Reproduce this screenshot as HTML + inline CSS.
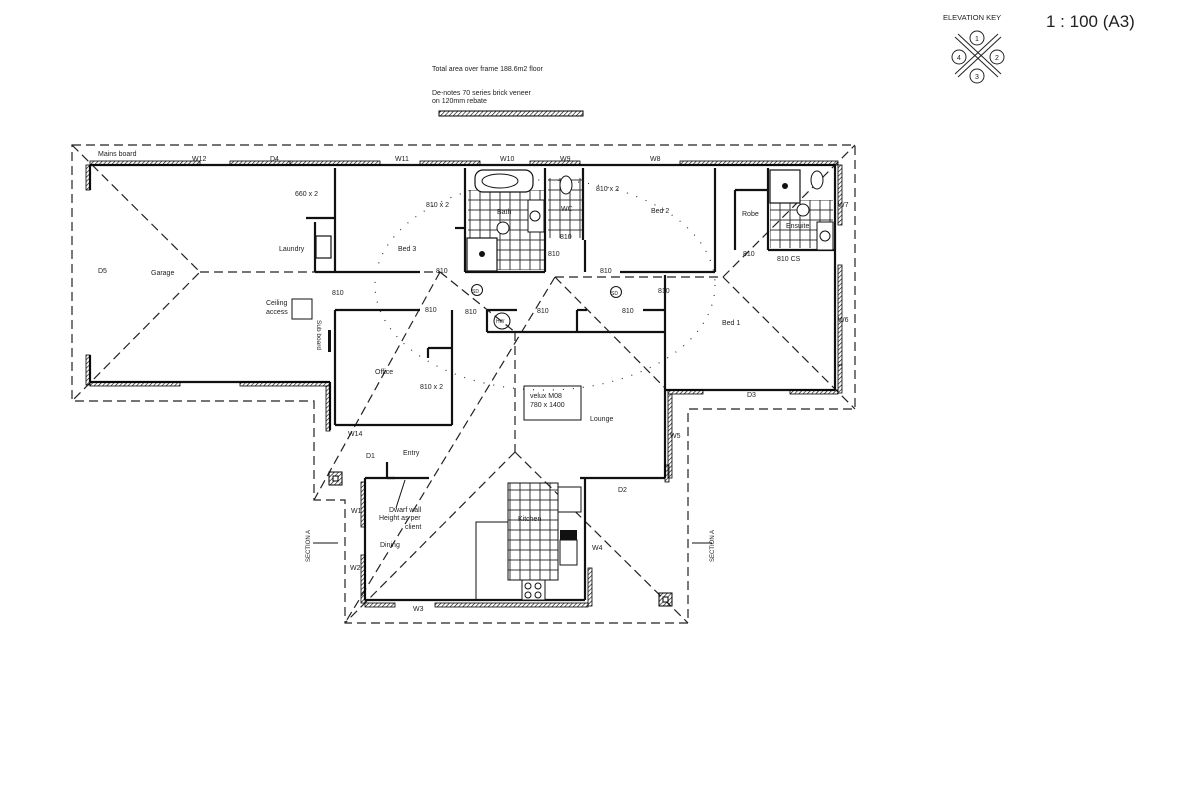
<!DOCTYPE html>
<html><head><meta charset="utf-8"><style>
html,body{margin:0;padding:0;background:#fff;}
svg{display:block;}
text{font-family:"Liberation Sans",sans-serif;fill:#222;}
</style></head><body>
<svg width="1200" height="800" viewBox="0 0 1200 800" xmlns="http://www.w3.org/2000/svg">
<defs>
<pattern id="hatch" width="3" height="3" patternUnits="userSpaceOnUse" patternTransform="rotate(45)">
<line x1="0" y1="0" x2="0" y2="3" stroke="#000" stroke-width="1.2"/></pattern>
<pattern id="tile" width="10" height="10" patternUnits="userSpaceOnUse">
<rect width="10" height="10" fill="none" stroke="#222" stroke-width="0.9"/></pattern>
</defs>
<rect width="1200" height="800" fill="#fff"/>

<text x="432" y="71" font-size="7">Total area over frame 188.6m2 floor</text>
<text x="432" y="95" font-size="7">De-notes 70 series brick veneer</text>
<text x="432" y="103" font-size="7">on 120mm rebate</text>
<rect x="439" y="111" width="144" height="5" fill="url(#hatch)" stroke="#000" stroke-width="1"/>

<text x="943" y="20" font-size="7.5">ELEVATION KEY</text>
<text x="1046" y="27" font-size="17">1 : 100 (A3)</text>
<g stroke="#222" stroke-width="1" fill="#fff">
<line x1="955" y1="37" x2="998" y2="77"/><line x1="958" y1="34" x2="1001" y2="74"/>
<line x1="955" y1="74" x2="998" y2="34"/><line x1="958" y1="77" x2="1001" y2="37"/>
<circle cx="977" cy="38" r="7" fill="none"/><circle cx="997" cy="57" r="7" fill="none"/>
<circle cx="977" cy="76" r="7" fill="none"/><circle cx="959" cy="57" r="7" fill="none"/>
</g>
<text x="975" y="41" font-size="7">1</text><text x="995" y="60" font-size="7">2</text>
<text x="975" y="79" font-size="7">3</text><text x="957" y="60" font-size="7">4</text>

<g fill="none" stroke="#222" stroke-width="1.2" stroke-dasharray="9,5">
<polygon points="72,145 855,145 855,409 688,409 688,623 345,623 345,500 314,500 314,401 72,401"/>
<polyline points="72,145 200,272 72,401"/>
<line x1="200" y1="272" x2="440" y2="272"/>
<line x1="440" y1="272" x2="314" y2="500"/>
<line x1="440" y1="272" x2="515" y2="332"/>
<line x1="555" y1="277" x2="723" y2="277"/>
<line x1="555" y1="277" x2="345" y2="623"/>
<line x1="555" y1="277" x2="665" y2="388"/>
<line x1="723" y1="277" x2="855" y2="145"/>
<line x1="723" y1="277" x2="855" y2="409"/>
<line x1="515" y1="332" x2="515" y2="452"/>
<line x1="515" y1="452" x2="688" y2="623"/>
<line x1="515" y1="452" x2="345" y2="623"/>
</g>

<g fill="none" stroke="#333" stroke-width="1.2" stroke-dasharray="1,9">
<ellipse cx="545" cy="285" rx="170" ry="105"/>
</g>

<g fill="none" stroke="#111" stroke-width="2.2">
<line x1="90" y1="165" x2="835" y2="165"/>
<line x1="835" y1="165" x2="835" y2="390"/>
<line x1="665" y1="390" x2="835" y2="390"/>
<line x1="90" y1="382" x2="330" y2="382"/>
<line x1="90" y1="165" x2="90" y2="190"/>
<line x1="90" y1="355" x2="90" y2="382"/>
<line x1="330" y1="382" x2="330" y2="430"/>
<line x1="335" y1="168" x2="335" y2="272"/>
<line x1="315" y1="222" x2="315" y2="272"/>
<line x1="306" y1="218" x2="335" y2="218"/>
<line x1="315" y1="272" x2="420" y2="272"/>
<line x1="465" y1="168" x2="465" y2="272"/>
<line x1="455" y1="228" x2="465" y2="228"/>
<line x1="465" y1="272" x2="545" y2="272"/>
<line x1="545" y1="168" x2="545" y2="272"/>
<line x1="583" y1="168" x2="583" y2="240"/>
<line x1="585" y1="240" x2="585" y2="272"/>
<line x1="620" y1="272" x2="715" y2="272"/>
<line x1="715" y1="168" x2="715" y2="272"/>
<line x1="735" y1="190" x2="735" y2="250"/>
<line x1="735" y1="190" x2="768" y2="190"/>
<line x1="768" y1="168" x2="768" y2="250"/>
<line x1="768" y1="250" x2="835" y2="250"/>
<line x1="335" y1="310" x2="420" y2="310"/>
<line x1="335" y1="310" x2="335" y2="425"/>
<line x1="452" y1="310" x2="452" y2="425"/>
<line x1="335" y1="425" x2="452" y2="425"/>
<line x1="428" y1="348" x2="452" y2="348"/>
<line x1="428" y1="348" x2="428" y2="358"/>
<line x1="487" y1="310" x2="517" y2="310"/>
<line x1="487" y1="310" x2="487" y2="332"/>
<line x1="487" y1="332" x2="665" y2="332"/>
<line x1="577" y1="310" x2="577" y2="332"/>
<line x1="577" y1="310" x2="587" y2="310"/>
<line x1="643" y1="310" x2="665" y2="310"/>
<line x1="665" y1="275" x2="665" y2="478"/>
<line x1="580" y1="478" x2="665" y2="478"/>
<line x1="365" y1="478" x2="395" y2="478"/>
<line x1="365" y1="478" x2="365" y2="600"/>
<line x1="365" y1="600" x2="585" y2="600"/>
<line x1="585" y1="478" x2="585" y2="600"/>
<line x1="387" y1="478" x2="429" y2="478"/>
<line x1="387" y1="462" x2="387" y2="478"/>
</g>
<g fill="url(#hatch)" stroke="#000" stroke-width="0.8">
<rect x="90" y="161" width="110" height="4"/><rect x="230" y="161" width="60" height="4"/>
<rect x="290" y="161" width="90" height="4"/><rect x="420" y="161" width="60" height="4"/>
<rect x="530" y="161" width="50" height="4"/><rect x="680" y="161" width="158" height="4"/>
<rect x="838" y="165" width="4" height="60"/><rect x="838" y="265" width="4" height="100"/>
<rect x="838" y="365" width="4" height="28"/>
<rect x="90" y="382" width="90" height="4"/><rect x="240" y="382" width="90" height="4"/>
<rect x="86" y="165" width="4" height="25"/><rect x="86" y="355" width="4" height="30"/>
<rect x="326" y="386" width="4" height="45"/>
<rect x="668" y="390" width="35" height="4"/><rect x="790" y="390" width="48" height="4"/>
<rect x="668" y="394" width="4" height="84"/>
<rect x="361" y="482" width="4" height="45"/><rect x="361" y="555" width="4" height="48"/>
<rect x="365" y="603" width="30" height="4"/><rect x="435" y="603" width="153" height="4"/>
<rect x="588" y="568" width="4" height="38"/><rect x="665" y="465" width="4" height="17"/>
</g>
<g fill="url(#hatch)" stroke="#000" stroke-width="1">
<rect x="329" y="472" width="13" height="13"/><rect x="659" y="593" width="13" height="13"/>
</g>
<rect x="333" y="476" width="5" height="5" fill="#fff" stroke="#000"/>
<rect x="663" y="597" width="5" height="5" fill="#fff" stroke="#000"/>

<rect x="468" y="190" width="76" height="80" fill="url(#tile)"/>
<rect x="548" y="178" width="34" height="60" fill="url(#tile)"/>
<rect x="770" y="200" width="63" height="48" fill="url(#tile)"/>
<rect x="475" y="170" width="58" height="22" rx="8" fill="#fff" stroke="#111" stroke-width="1.2"/>
<ellipse cx="500" cy="181" rx="18" ry="7" fill="#fff" stroke="#111"/>
<rect x="467" y="238" width="30" height="33" fill="#fff" stroke="#111" stroke-width="1.2"/>
<circle cx="482" cy="254" r="3" fill="#111"/>
<rect x="770" y="170" width="30" height="33" fill="#fff" stroke="#111" stroke-width="1.2"/>
<circle cx="785" cy="186" r="3" fill="#111"/>
<rect x="528" y="200" width="16" height="32" fill="#fff" stroke="#111"/><circle cx="535" cy="216" r="5" fill="none" stroke="#111"/>
<ellipse cx="566" cy="185" rx="6" ry="9" fill="#fff" stroke="#111"/>
<ellipse cx="817" cy="180" rx="6" ry="9" fill="#fff" stroke="#111"/>
<rect x="817" y="222" width="16" height="28" fill="#fff" stroke="#111"/><circle cx="825" cy="236" r="5" fill="none" stroke="#111"/>
<circle cx="503" cy="228" r="6" fill="#fff" stroke="#111"/><circle cx="803" cy="210" r="6" fill="#fff" stroke="#111"/>
<rect x="316" y="236" width="15" height="22" fill="#fff" stroke="#111" stroke-width="1.2"/>
<rect x="292" y="299" width="20" height="20" fill="#fff" stroke="#111"/>
<rect x="328" y="330" width="3" height="22" fill="#111"/>
<circle cx="502" cy="321" r="8" fill="none" stroke="#111"/>
<circle cx="477" cy="290" r="5.5" fill="none" stroke="#111"/>
<circle cx="616" cy="292" r="5.5" fill="none" stroke="#111"/>
<rect x="524" y="386" width="57" height="34" fill="none" stroke="#111"/>
<rect x="508" y="483" width="50" height="97" fill="url(#tile)" stroke="#111"/>
<polyline points="508,522 476,522 476,600" fill="none" stroke="#111"/>
<rect x="522" y="580" width="23" height="20" fill="#fff" stroke="#111"/>
<circle cx="528" cy="586" r="3" fill="none" stroke="#111"/><circle cx="538" cy="586" r="3" fill="none" stroke="#111"/>
<circle cx="528" cy="595" r="3" fill="none" stroke="#111"/><circle cx="538" cy="595" r="3" fill="none" stroke="#111"/>
<rect x="560" y="530" width="17" height="10" fill="#111"/>
<rect x="560" y="540" width="17" height="25" fill="#fff" stroke="#111"/>
<rect x="558" y="487" width="23" height="25" fill="#fff" stroke="#111"/>
<line x1="405" y1="480" x2="396" y2="508" stroke="#111"/>

<g font-size="7">
<text x="98" y="156">Mains board</text>
<text x="192" y="161">W12</text><text x="270" y="161">D4</text>
<text x="395" y="161">W11</text><text x="500" y="161">W10</text>
<text x="560" y="161">W9</text><text x="650" y="161">W8</text>
<text x="838" y="207">W7</text><text x="838" y="322">W6</text>
<text x="98" y="273">D5</text><text x="151" y="275">Garage</text>
<text x="295" y="196">660 x 2</text><text x="279" y="251">Laundry</text>
<text x="426" y="207">810 x 2</text><text x="398" y="251">Bed 3</text>
<text x="497" y="214">Bath</text><text x="561" y="211">WC</text>
<text x="560" y="239">810</text><text x="548" y="256">810</text>
<text x="596" y="191">810 x 2</text><text x="651" y="213">Bed 2</text>
<text x="742" y="216">Robe</text><text x="786" y="228">Ensuite</text>
<text x="743" y="256">810</text><text x="777" y="261">810 CS</text>
<text x="436" y="273">810</text><text x="600" y="273">810</text>
<text x="332" y="295">810</text><text x="472" y="293" font-size="5">SD</text><text x="611" y="295" font-size="5">SD</text>
<text x="658" y="293">810</text>
<text x="266" y="305">Ceiling</text><text x="266" y="314">access</text>
<text x="425" y="312">810</text><text x="465" y="314">810</text>
<text x="537" y="313">810</text><text x="622" y="313">810</text>
<text x="496" y="323" font-size="5">HW</text>
<text x="722" y="325">Bed 1</text>
<text x="375" y="374">Office</text><text x="420" y="389">810 x 2</text>
<text x="530" y="398">velux M08</text><text x="530" y="407">780 x 1400</text>
<text x="590" y="421">Lounge</text>
<text x="747" y="397">D3</text><text x="670" y="438">W5</text>
<text x="348" y="436">W14</text><text x="366" y="458">D1</text><text x="403" y="455">Entry</text>
<text x="618" y="492">D2</text>
<text x="389" y="512">Dwarf wall</text><text x="379" y="520">Height as per</text><text x="405" y="529">client</text>
<text x="518" y="521">Kitchen</text>
<text x="351" y="513">W1</text><text x="380" y="547">Dining</text>
<text x="350" y="570">W2</text><text x="592" y="550">W4</text>
<text x="413" y="611">W3</text>
</g>
<text font-size="6.5" transform="translate(317,320) rotate(90)">Sub board</text>
<text font-size="6" transform="translate(310,562) rotate(-90)">SECTION A</text>
<text font-size="6" transform="translate(714,562) rotate(-90)">SECTION A</text>
<line x1="313" y1="543" x2="338" y2="543" stroke="#111"/>
<line x1="692" y1="543" x2="712" y2="543" stroke="#111"/>
</svg>
</body></html>
